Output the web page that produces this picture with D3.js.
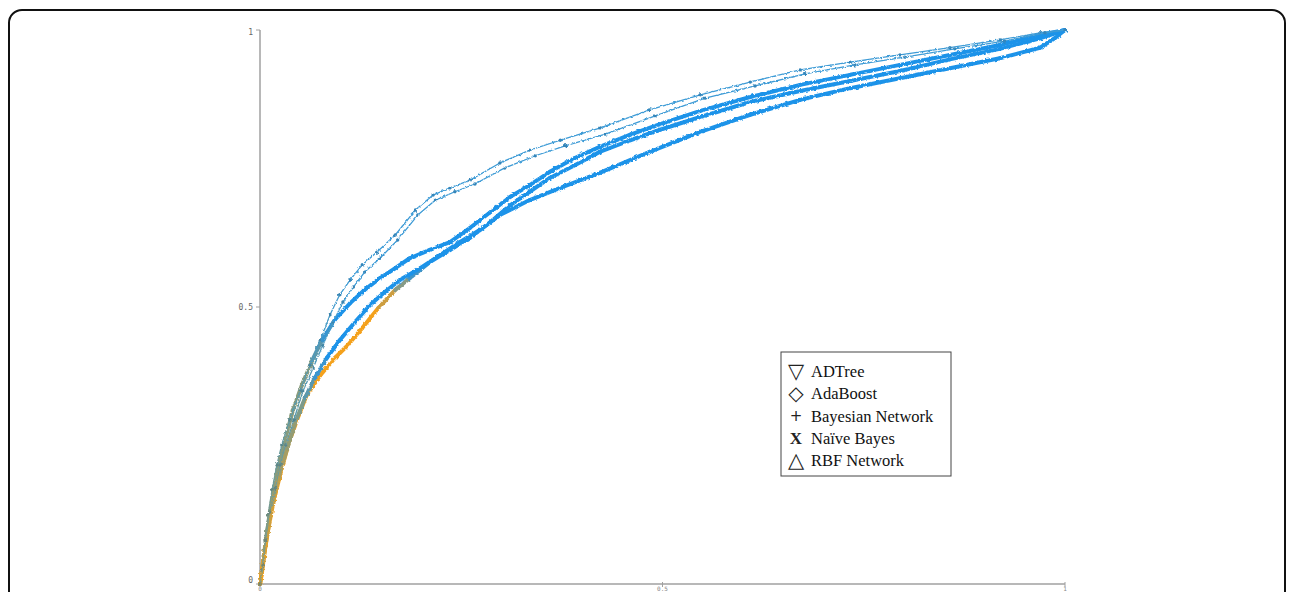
<!DOCTYPE html>
<html>
<head>
<meta charset="utf-8">
<script src="https://cdn.jsdelivr.net/npm/d3@7/dist/d3.min.js"></script>
<style>
  body { margin: 0; background: #fff; }
  svg { display: block; }
</style>
</head>
<body>
<svg id="chart" width="1293" height="592"></svg>
<script>
// ROC points (false positive rate / true positive rate)
var seriesNames = ["ADTree", "AdaBoost", "Bayesian Network", "Naïve Bayes", "RBF Network"];
var legendSymbols = ["▽", "◇", "+", "X", "△"];

var adtreeFpr = [0,0.004,0.009,0.015,0.022,0.031,0.041,0.052,0.065,0.077,0.093,0.112,0.130,0.149,0.168,0.186,0.211,0.236,0.261,0.286,0.311,0.335,0.360,0.391,0.422,0.460,0.497,0.547,0.609,0.671,0.733,0.795,0.857,0.919,0.969,1];
var adtreeTpr = [0,0.043,0.097,0.152,0.206,0.260,0.314,0.359,0.404,0.440,0.477,0.507,0.531,0.552,0.570,0.588,0.603,0.617,0.643,0.671,0.699,0.720,0.744,0.769,0.789,0.811,0.830,0.854,0.879,0.901,0.919,0.937,0.955,0.973,0.991,1];

var adaboostFpr = [0,0.002,0.006,0.010,0.016,0.025,0.035,0.046,0.058,0.075,0.093,0.109,0.127,0.147,0.168,0.186,0.211,0.236,0.261,0.286,0.311,0.335,0.360,0.391,0.422,0.460,0.497,0.547,0.609,0.671,0.733,0.795,0.857,0.919,0.969,1];
var adaboostTpr = [0,0.016,0.061,0.097,0.143,0.197,0.251,0.296,0.341,0.377,0.408,0.431,0.462,0.498,0.531,0.552,0.581,0.603,0.625,0.653,0.684,0.708,0.733,0.756,0.780,0.801,0.820,0.843,0.870,0.890,0.908,0.926,0.947,0.966,0.985,1];

var bayesNetFpr = [0,0.002,0.006,0.010,0.015,0.021,0.027,0.037,0.050,0.062,0.075,0.087,0.099,0.112,0.127,0.145,0.168,0.193,0.215,0.236,0.261,0.298,0.335,0.373,0.422,0.484,0.547,0.609,0.671,0.733,0.795,0.857,0.919,0.969,1];
var bayesNetTpr = [0,0.025,0.079,0.125,0.170,0.215,0.251,0.296,0.350,0.395,0.440,0.486,0.522,0.549,0.576,0.599,0.630,0.675,0.702,0.715,0.729,0.760,0.783,0.801,0.823,0.856,0.883,0.906,0.928,0.942,0.955,0.968,0.982,0.995,1];

var naiveBayesFpr = [0,0.004,0.007,0.012,0.019,0.025,0.032,0.042,0.053,0.066,0.078,0.091,0.103,0.116,0.130,0.149,0.171,0.196,0.218,0.242,0.267,0.304,0.342,0.379,0.429,0.491,0.553,0.615,0.677,0.739,0.801,0.863,0.925,0.975,1];
var naiveBayesTpr = [0,0.034,0.079,0.130,0.173,0.215,0.251,0.296,0.347,0.390,0.431,0.473,0.509,0.536,0.563,0.588,0.621,0.666,0.693,0.708,0.722,0.751,0.773,0.791,0.812,0.845,0.877,0.899,0.921,0.937,0.951,0.966,0.980,0.995,1];

var rbfFpr = [0,0.004,0.009,0.015,0.024,0.034,0.045,0.056,0.068,0.083,0.099,0.118,0.137,0.155,0.174,0.199,0.224,0.248,0.273,0.298,0.335,0.373,0.422,0.484,0.547,0.609,0.671,0.733,0.795,0.857,0.919,0.969,0.988,1];
var rbfTpr = [0,0.043,0.088,0.143,0.197,0.245,0.296,0.336,0.372,0.408,0.440,0.473,0.504,0.527,0.549,0.570,0.594,0.617,0.639,0.666,0.693,0.715,0.742,0.780,0.816,0.847,0.874,0.895,0.913,0.931,0.949,0.968,0.986,1];

var tickValues = [0, 0.5, 1];
var tickLabels = ["0", "0.5", "1"];

var orange = "#f4a11c", olive = "#8a9c7c", blue = "#1f93e9", teal = "#3d9bd6";

// how each curve is drawn (thick threshold curves vs thin dotted ones)
var curves = [
  {fpr: adtreeFpr, tpr: adtreeTpr, width: 4, dots: false, stops: [0, 0.38, 0.48], colors: [olive, olive, blue]},
  {fpr: adaboostFpr, tpr: adaboostTpr, width: 4, dots: false, stops: [0, 0.5, 0.58], colors: [orange, orange, blue]},
  {fpr: rbfFpr, tpr: rbfTpr, width: 4, dots: false, stops: [0, 0.3, 0.42], colors: [orange, olive, blue]},
  {fpr: bayesNetFpr, tpr: bayesNetTpr, width: 1.3, dots: true, stops: [0, 0.3, 0.55], colors: [olive, "#5f9aa8", teal]},
  {fpr: naiveBayesFpr, tpr: naiveBayesTpr, width: 1.3, dots: true, stops: [0, 0.3, 0.55], colors: [olive, "#5f9aa8", teal]}
];

var svg = d3.select("#chart");

// a little roughness so the curves look like stepped ROC traces
var defs = svg.append("defs");
var rough = defs.append("filter").attr("id", "rough")
  .attr("x", "-5%").attr("y", "-5%").attr("width", "110%").attr("height", "110%");
rough.append("feTurbulence")
  .attr("type", "fractalNoise").attr("baseFrequency", 0.35)
  .attr("numOctaves", 2).attr("seed", 3).attr("result", "noise");
rough.append("feDisplacementMap")
  .attr("in", "SourceGraphic").attr("in2", "noise")
  .attr("scale", 3).attr("xChannelSelector", "R").attr("yChannelSelector", "G");

// rounded frame round the figure
svg.append("rect")
  .attr("x", 9).attr("y", 10)
  .attr("width", 1276).attr("height", 640)
  .attr("rx", 13).attr("ry", 13)
  .attr("fill", "none")
  .attr("stroke", "#111")
  .attr("stroke-width", 2);

var x = d3.scaleLinear().domain([0, 1]).range([260, 1065]);
var y = d3.scaleLinear().domain([0, 1]).range([584, 30]);

var axisColor = "#a0a0a0";

// y axis
svg.append("line")
  .attr("x1", x(0)).attr("x2", x(0))
  .attr("y1", y(1)).attr("y2", y(0))
  .attr("stroke", axisColor).attr("stroke-width", 1.5);
// x axis
svg.append("line")
  .attr("x1", x(0)).attr("x2", x(1))
  .attr("y1", y(0)).attr("y2", y(0))
  .attr("stroke", axisColor).attr("stroke-width", 1.5);

svg.selectAll(".ytick").data(tickValues).enter().append("line")
  .attr("class", "ytick")
  .attr("x1", x(0) - 4).attr("x2", x(0))
  .attr("y1", function(d){ return y(d); }).attr("y2", function(d){ return y(d); })
  .attr("stroke", axisColor).attr("stroke-width", 1);

svg.selectAll(".ylab").data(tickValues).enter().append("text")
  .attr("class", "ylab")
  .attr("x", x(0) - 7)
  .attr("y", function(d){ return y(d) + (d == 1 ? 5 : (d == 0 ? -1 : 3)); })
  .attr("text-anchor", "end")
  .attr("font-family", "DejaVu Sans Mono")
  .attr("font-size", 8)
  .attr("fill", "#666")
  .text(function(d, i){ return tickLabels[i]; });

svg.selectAll(".xtick").data(tickValues).enter().append("line")
  .attr("class", "xtick")
  .attr("x1", function(d){ return x(d); }).attr("x2", function(d){ return x(d); })
  .attr("y1", y(0) - 2).attr("y2", y(0) + 3)
  .attr("stroke", axisColor).attr("stroke-width", 1);

// x labels sit right at the bottom edge, as in the source
svg.selectAll(".xlab").data(tickValues).enter().append("text")
  .attr("class", "xlab")
  .attr("x", function(d){ return x(d); })
  .attr("y", 591)
  .attr("text-anchor", "middle")
  .attr("font-family", "DejaVu Sans Mono")
  .attr("font-size", 6)
  .attr("fill", "#888")
  .text(function(d, i){ return tickLabels[i]; });

// draw curves segment by segment so colour can follow the threshold
var plot = svg.append("g").attr("filter", "url(#rough)");
curves.forEach(function(c) {
  var col = d3.scaleLinear().domain(c.stops).range(c.colors).clamp(true);
  var pts = c.fpr.map(function(f, i){ return [f, c.tpr[i]]; });
  for (var i = 1; i < pts.length; i++) {
    var a = pts[i-1], b = pts[i];
    plot.append("line")
      .attr("x1", x(a[0])).attr("y1", y(a[1]))
      .attr("x2", x(b[0])).attr("y2", y(b[1]))
      .attr("stroke", col((a[1] + b[1]) / 2))
      .attr("stroke-width", c.width)
      .attr("stroke-linecap", "round");
  }
  if (c.dots) {
    plot.selectAll(null).data(pts).enter().append("circle")
      .attr("cx", function(d){ return x(d[0]); })
      .attr("cy", function(d){ return y(d[1]); })
      .attr("r", 1.7)
      .attr("fill", function(d){ return d3.color(col(d[1])).darker(0.4); });
  }
});

// legend
var lg = svg.append("g").attr("transform", "translate(781,352)");
lg.append("rect")
  .attr("width", 170).attr("height", 124)
  .attr("fill", "#fff")
  .attr("stroke", "#444").attr("stroke-width", 1);

var rows = lg.selectAll(".row").data(seriesNames).enter().append("g")
  .attr("class", "row")
  .attr("transform", function(d, i){ return "translate(0," + (25 + i * 22.3) + ")"; });

rows.append("text")
  .attr("x", 15)
  .attr("y", function(d, i){ return i == 2 ? -1 : (i == 3 ? 0 : 1); })
  .attr("text-anchor", "middle")
  .attr("font-size", function(d, i){ return [21, 20, 15, 17, 21][i]; })
  .attr("font-weight", function(d, i){ return i == 3 ? "bold" : "normal"; })
  .attr("font-family", function(d, i){ return i == 3 ? "Liberation Serif" : "DejaVu Sans"; })
  .attr("fill", "#222")
  .text(function(d, i){ return legendSymbols[i]; });

rows.append("text")
  .attr("x", 30)
  .attr("font-family", "Liberation Serif")
  .attr("font-size", 16.5)
  .attr("fill", "#111")
  .text(function(d){ return d; });
</script>
</body>
</html>
